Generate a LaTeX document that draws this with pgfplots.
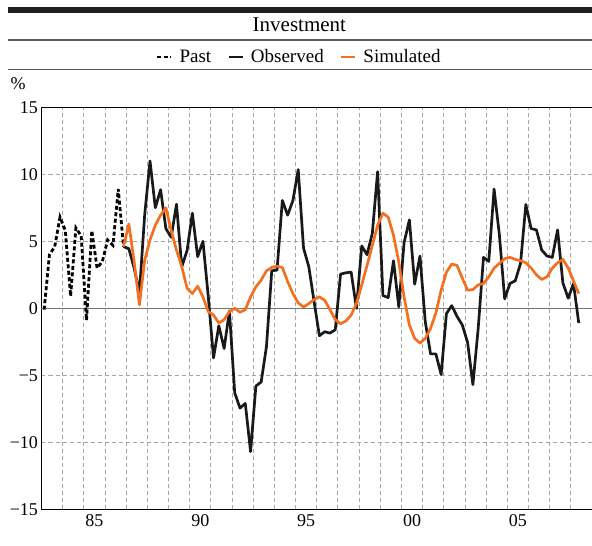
\documentclass[border=0pt]{standalone}
\usepackage{fontspec}
\setmainfont{Liberation Serif}
\usepackage{pgfplots}
\pgfplotsset{compat=1.18}
\definecolor{sim}{RGB}{243,112,33}
\definecolor{gridc}{RGB}{165,165,165}
\definecolor{rulec}{RGB}{90,90,90}

\pgfplotstableread{
t v
1983.125 -0.1
1983.375 4.0
1983.625 4.6
1983.875 6.8
1984.125 5.8
1984.375 0.9
1984.625 6.0
1984.875 5.4
1985.125 -0.9
1985.375 5.8
1985.625 3.0
1985.875 3.5
1986.125 5.1
1986.375 4.7
1986.625 8.9
1986.875 4.6
}\past

\pgfplotstableread{
t v
1986.875 4.6
1987.125 4.45
1987.375 3.0
1987.625 1.2
1987.875 7.0
1988.125 11.0
1988.375 7.5
1988.625 8.85
1988.875 5.95
1989.125 5.3
1989.375 7.77
1989.625 3.1
1989.875 4.3
1990.125 7.1
1990.375 3.85
1990.625 5.0
1990.875 0.9
1991.125 -3.7
1991.375 -1.3
1991.625 -3.0
1991.875 -0.2
1992.125 -6.3
1992.375 -7.45
1992.625 -7.1
1992.875 -10.7
1993.125 -5.8
1993.375 -5.5
1993.625 -2.85
1993.875 2.8
1994.125 2.85
1994.375 8.05
1994.625 6.95
1994.875 8.05
1995.125 10.35
1995.375 4.5
1995.625 3.1
1995.875 0.5
1996.125 -2.05
1996.375 -1.75
1996.625 -1.85
1996.875 -1.6
1997.125 2.55
1997.375 2.65
1997.625 2.7
1997.875 0.0
1998.125 4.65
1998.375 4.0
1998.625 5.6
1998.875 10.2
1999.125 0.95
1999.375 0.8
1999.625 3.55
1999.875 0.1
2000.125 4.9
2000.375 6.6
2000.625 1.8
2000.875 3.9
2001.125 -1.0
2001.375 -3.4
2001.625 -3.4
2001.875 -4.95
2002.125 -0.4
2002.375 0.2
2002.625 -0.6
2002.875 -1.25
2003.125 -2.55
2003.375 -5.7
2003.625 -1.5
2003.875 3.8
2004.125 3.5
2004.375 8.9
2004.625 5.5
2004.875 0.7
2005.125 1.85
2005.375 2.05
2005.625 3.35
2005.875 7.75
2006.125 5.95
2006.375 5.85
2006.625 4.35
2006.875 3.9
2007.125 3.8
2007.375 5.85
2007.625 1.9
2007.875 0.75
2008.125 1.85
2008.375 -1.1
}\observed

\pgfplotstableread{
t v
1986.875 4.6
1987.125 6.3
1987.375 3.5
1987.625 0.25
1987.875 3.6
1988.125 5.1
1988.375 6.2
1988.625 6.95
1988.875 7.5
1989.125 5.8
1989.375 4.35
1989.625 3.1
1989.875 1.5
1990.125 1.1
1990.375 1.65
1990.625 0.85
1990.875 -0.25
1991.125 -0.5
1991.375 -1.1
1991.625 -0.85
1991.875 -0.25
1992.125 0.0
1992.375 -0.3
1992.625 -0.1
1992.875 0.85
1993.125 1.6
1993.375 2.1
1993.625 2.8
1993.875 3.05
1994.125 3.15
1994.375 3.05
1994.625 2.0
1994.875 1.1
1995.125 0.4
1995.375 0.1
1995.625 0.35
1995.875 0.65
1996.125 0.85
1996.375 0.6
1996.625 -0.1
1996.875 -0.85
1997.125 -1.15
1997.375 -0.95
1997.625 -0.5
1997.875 0.35
1998.125 1.75
1998.375 3.2
1998.625 4.7
1998.875 6.2
1999.125 7.1
1999.375 6.8
1999.625 5.45
1999.875 3.45
2000.125 0.85
2000.375 -1.25
2000.625 -2.25
2000.875 -2.6
2001.125 -2.25
2001.375 -1.5
2001.625 -0.35
2001.875 1.35
2002.125 2.7
2002.375 3.3
2002.625 3.2
2002.875 2.25
2003.125 1.35
2003.375 1.4
2003.625 1.75
2003.875 1.85
2004.125 2.35
2004.375 3.0
2004.625 3.35
2004.875 3.7
2005.125 3.8
2005.375 3.65
2005.625 3.55
2005.875 3.4
2006.125 3.0
2006.375 2.5
2006.625 2.15
2006.875 2.35
2007.125 3.0
2007.375 3.4
2007.625 3.65
2007.875 3.0
2008.125 2.05
2008.375 1.1
}\simulated

\begin{document}
\begin{tikzpicture}
\path[use as bounding box] (0pt,0pt) rectangle (592pt,546pt);
\draw[line width=6pt, black!88] (7.5pt,536.3pt) -- (592pt,536.3pt);
\node[font=\fontsize{21}{24}\selectfont, anchor=base, inner sep=0pt] at (299.4pt,514.3pt) {Investment};
\draw[line width=1.5pt, rulec] (7.5pt,506pt) -- (592pt,506pt);
\draw[line width=1.5pt, rulec] (7.5pt,476.7pt) -- (592pt,476.7pt);
\node[font=\fontsize{18}{20}\selectfont, anchor=base west, inner sep=0pt] at (10.5pt,456pt) {\%};
\begin{axis}[
  at={(41.5pt,36.7pt)}, anchor=south west,
  scale only axis, width=550.5pt, height=402pt,
  xmin=1983, xmax=2009, ymin=-15, ymax=15,
  axis x line=bottom, axis y line=left,
  axis line style={-, black, line width=1.3pt},
  xtick={1985.5,1990.5,1995.5,2000.5,2005.5},
  xticklabels={85,90,95,00,05},
  minor xtick={1984,1985,...,2008},
  ytick={-15,-10,-5,0,5,10,15},
  yticklabels={−15,−10,−5,0,5,10,15},
  major tick length=0pt, minor tick length=0pt,
  xminorgrids=true, ymajorgrids=true, xmajorgrids=false,
  grid style={gridc, line width=0.9pt, dash pattern=on 4pt off 3pt},
  tick label style={font=\fontsize{18}{20}\selectfont},
  xticklabel style={yshift=-2pt},
  /pgf/number format/assume math mode=true,
  legend style={at={(0.468,1.125)}, anchor=center, draw=none, fill=none,
    font=\fontsize{19}{22}\selectfont,
    /tikz/every odd column/.append style={column sep=5pt},
    /tikz/every even column/.append style={column sep=14pt}},
  legend columns=3,
  legend image code/.code={\draw[#1] (0pt,0pt) -- (14pt,0pt);},
  clip=false,
]
\draw[gridc!70!black, line width=1pt] (axis cs:1983,0) -- (axis cs:2009,0);
\draw[black, line width=1.3pt] (axis cs:1983,15) -- (axis cs:2009,15);
\addplot[black, line width=2.8pt, dash pattern=on 4pt off 2.5pt] table[x=t,y=v] {\past};
\addplot[black!90, line width=2.7pt, line join=round] table[x=t,y=v] {\observed};
\addplot[sim, line width=2.7pt, line join=round] table[x=t,y=v] {\simulated};
\legend{Past, Observed, Simulated}
\end{axis}
\end{tikzpicture}
\end{document}
